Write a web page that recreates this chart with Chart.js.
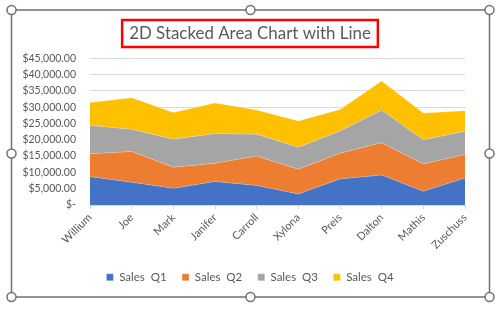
<!DOCTYPE html>
<html>
<head>
<meta charset="utf-8">
<script src="https://cdn.jsdelivr.net/npm/chart.js@4.4.0/dist/chart.umd.min.js"></script>
<style>
  html, body { margin: 0; padding: 0; background: #fff; }
  #wrap { width: 500px; height: 309px; }
</style>
</head>
<body>
<div id="wrap"><canvas id="chart" width="500" height="309"></canvas></div>
<script>
var names = ["Willium", "Joe", "Mark", "Janifer", "Carroll", "Xylona", "Preis", "Dalton", "Mathis", "Zuschuss"];
var salesQ1 = [8700, 7000, 5100, 7200, 6000, 3400, 8000, 9200, 4200, 8300];
var salesQ2 = [7000, 9400, 6500, 5600, 9000, 7600, 7900, 9900, 8400, 7200];
var salesQ3 = [8700, 6800, 8600, 9100, 6700, 6700, 6800, 10000, 7400, 7100];
var salesQ4 = [7000, 9700, 8200, 9400, 7400, 8100, 6600, 8900, 8200, 6300];
var yTicks = [0, 5000, 10000, 15000, 20000, 25000, 30000, 35000, 40000, 45000];

var FONT = "Lato, 'Open Sans', sans-serif";
var grey = "#595959";

function money(v) {
  if (v === 0) return "$-";
  return "$" + v.toLocaleString("en-US", { minimumFractionDigits: 2, maximumFractionDigits: 2 });
}

function area(label, data, color, fill) {
  return {
    label: label,
    data: data,
    backgroundColor: color,
    borderColor: "rgba(255,255,255,0.5)",
    borderWidth: 0.5,
    pointRadius: 0,
    tension: 0,
    fill: fill
  };
}

// frame, handles and the red box round the title
var frame = {
  id: "frame",
  afterDraw: function (chart) {
    var c = chart.ctx;
    c.save();
    var t = chart.titleBlock;
    c.font = "16.9px " + FONT;
    var w = c.measureText(chart.options.plugins.title.text).width;
    var cx = (t.left + t.right) / 2;
    var cy = 33;
    c.strokeStyle = "#ff0000";
    c.lineWidth = 2.5;
    c.strokeRect(cx - w / 2 - 7, cy - 13, w + 14, 27);

    var L = 11.5, R = 489.5, T = 10, B = 297;
    c.strokeStyle = "#707070";
    c.lineWidth = 1.5;
    c.strokeRect(L, T, R - L, B - T);
    var mx = (L + R) / 2, my = (T + B) / 2;
    [[L, T], [mx, T], [R, T], [L, my], [R, my], [L, B], [mx, B], [R, B]].forEach(function (p) {
      c.beginPath();
      c.arc(p[0], p[1], 4.5, 0, Math.PI * 2);
      c.fillStyle = "#fff";
      c.fill();
      c.stroke();
    });
    c.restore();
  }
};

new Chart(document.getElementById("chart"), {
  type: "line",
  data: {
    labels: names,
    datasets: [
      area("Sales  Q1", salesQ1, "#4472C4", "origin"),
      area("Sales  Q2", salesQ2, "#ED7D31", "-1"),
      area("Sales  Q3", salesQ3, "#A5A5A5", "-1"),
      area("Sales  Q4", salesQ4, "#FFC000", "-1")
    ]
  },
  options: {
    responsive: false,
    animation: false,
    layout: { padding: { left: 0, right: 0, top: 0, bottom: 16 } },
    plugins: {
      title: {
        display: true,
        text: "2D Stacked Area Chart with Line",
        color: grey,
        font: { family: FONT, size: 16.9, weight: "normal" },
        padding: { top: 23, bottom: 15 }
      },
      legend: {
        position: "bottom",
        labels: {
          color: grey,
          font: { family: FONT, size: 11.5 },
          boxWidth: 7,
          boxHeight: 7,
          padding: 15.5
        }
      },
      tooltip: { enabled: false }
    },
    scales: {
      x: {
        offset: false,
        grid: { display: true, drawOnChartArea: false, drawTicks: true, tickLength: 4, color: "#d9d9d9" },
        border: { display: true, color: "#d9d9d9" },
        ticks: { color: grey, font: { family: FONT, size: 11 }, minRotation: 45, maxRotation: 45, padding: 2 },
        afterFit: function (s) { s.height = 51; }
      },
      y: {
        stacked: true,
        min: 0,
        max: 45000,
        afterBuildTicks: function (s) { s.ticks = yTicks.map(function (v) { return { value: v }; }); },
        grid: { color: "#d9d9d9", drawTicks: false },
        border: { display: false },
        ticks: { color: grey, font: { family: FONT, size: 10.5 }, padding: 14, callback: money },
        afterFit: function (s) { s.width = 90; }
      },
      spacer: {
        position: "right",
        grid: { display: false },
        border: { display: false },
        ticks: { display: false },
        afterFit: function (s) { s.width = 35; }
      }
    }
  },
  plugins: [frame]
});
</script>
</body>
</html>
